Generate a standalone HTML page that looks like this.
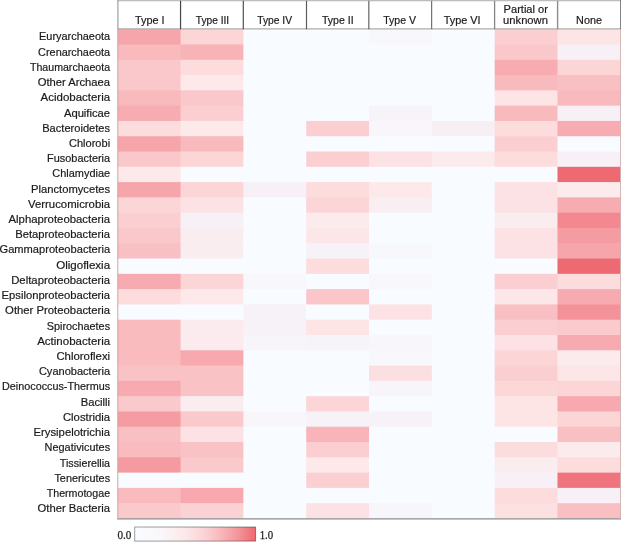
<!DOCTYPE html>
<html><head><meta charset="utf-8"><title>Heatmap</title>
<style>html,body{margin:0;padding:0;background:#fff}svg{display:block}text{font-family:"Liberation Sans",sans-serif;fill:#1a1a1a;stroke:#1a1a1a;stroke-width:0.2px}</style></head><body>
<svg width="621" height="542" viewBox="0 0 621 542">
<defs><linearGradient id="g" x1="0" x2="1" y1="0" y2="0">
<stop offset="0%" stop-color="#f9fcff"/>
<stop offset="22%" stop-color="#faf6f9"/>
<stop offset="42%" stop-color="#fde8e9"/>
<stop offset="58%" stop-color="#fbd3d5"/>
<stop offset="72%" stop-color="#f8b6ba"/>
<stop offset="86%" stop-color="#f3939a"/>
<stop offset="100%" stop-color="#ef686e"/>
</linearGradient></defs>
<rect x="0" y="0" width="621" height="542" fill="#fff"/>
<rect x="117.75" y="29.20" width="502.56" height="489.28" fill="#f8fbff"/>
<g>
<rect x="117.75" y="29.20" width="63.52" height="15.99" fill="#f6a5ab"/>
<rect x="180.57" y="29.20" width="63.52" height="15.99" fill="#fcd6d7"/>
<rect x="243.39" y="29.20" width="63.52" height="15.99" fill="#f8fbff"/>
<rect x="306.21" y="29.20" width="63.52" height="15.99" fill="#f8fbff"/>
<rect x="369.03" y="29.20" width="63.52" height="15.99" fill="#f8f8fc"/>
<rect x="431.85" y="29.20" width="63.52" height="15.99" fill="#f8fbff"/>
<rect x="494.67" y="29.20" width="63.52" height="15.99" fill="#fbcfd1"/>
<rect x="557.49" y="29.20" width="62.81" height="15.99" fill="#fde4e5"/>
<rect x="117.75" y="44.49" width="63.52" height="15.99" fill="#f8babd"/>
<rect x="180.57" y="44.49" width="63.52" height="15.99" fill="#f8b3b7"/>
<rect x="243.39" y="44.49" width="63.52" height="15.99" fill="#f8fbff"/>
<rect x="306.21" y="44.49" width="63.52" height="15.99" fill="#f8fbff"/>
<rect x="369.03" y="44.49" width="63.52" height="15.99" fill="#f8fbff"/>
<rect x="431.85" y="44.49" width="63.52" height="15.99" fill="#f8fbff"/>
<rect x="494.67" y="44.49" width="63.52" height="15.99" fill="#fac8ca"/>
<rect x="557.49" y="44.49" width="62.81" height="15.99" fill="#f7f1f7"/>
<rect x="117.75" y="59.78" width="63.52" height="15.99" fill="#fac8ca"/>
<rect x="180.57" y="59.78" width="63.52" height="15.99" fill="#fcdcdd"/>
<rect x="243.39" y="59.78" width="63.52" height="15.99" fill="#f8fbff"/>
<rect x="306.21" y="59.78" width="63.52" height="15.99" fill="#f8fbff"/>
<rect x="369.03" y="59.78" width="63.52" height="15.99" fill="#f8fbff"/>
<rect x="431.85" y="59.78" width="63.52" height="15.99" fill="#f8fbff"/>
<rect x="494.67" y="59.78" width="63.52" height="15.99" fill="#f7acb1"/>
<rect x="557.49" y="59.78" width="62.81" height="15.99" fill="#fcd6d7"/>
<rect x="117.75" y="75.07" width="63.52" height="15.99" fill="#fac8ca"/>
<rect x="180.57" y="75.07" width="63.52" height="15.99" fill="#fde9ea"/>
<rect x="243.39" y="75.07" width="63.52" height="15.99" fill="#f8fbff"/>
<rect x="306.21" y="75.07" width="63.52" height="15.99" fill="#f8fbff"/>
<rect x="369.03" y="75.07" width="63.52" height="15.99" fill="#f8fbff"/>
<rect x="431.85" y="75.07" width="63.52" height="15.99" fill="#f8fbff"/>
<rect x="494.67" y="75.07" width="63.52" height="15.99" fill="#f8babd"/>
<rect x="557.49" y="75.07" width="62.81" height="15.99" fill="#f9c0c3"/>
<rect x="117.75" y="90.36" width="63.52" height="15.99" fill="#f8babd"/>
<rect x="180.57" y="90.36" width="63.52" height="15.99" fill="#fac8ca"/>
<rect x="243.39" y="90.36" width="63.52" height="15.99" fill="#f8fbff"/>
<rect x="306.21" y="90.36" width="63.52" height="15.99" fill="#f8fbff"/>
<rect x="369.03" y="90.36" width="63.52" height="15.99" fill="#f8fbff"/>
<rect x="431.85" y="90.36" width="63.52" height="15.99" fill="#f8fbff"/>
<rect x="494.67" y="90.36" width="63.52" height="15.99" fill="#fde4e5"/>
<rect x="557.49" y="90.36" width="62.81" height="15.99" fill="#f8babd"/>
<rect x="117.75" y="105.65" width="63.52" height="15.99" fill="#f7acb1"/>
<rect x="180.57" y="105.65" width="63.52" height="15.99" fill="#fbcfd1"/>
<rect x="243.39" y="105.65" width="63.52" height="15.99" fill="#f8fbff"/>
<rect x="306.21" y="105.65" width="63.52" height="15.99" fill="#f8fbff"/>
<rect x="369.03" y="105.65" width="63.52" height="15.99" fill="#f7f3f9"/>
<rect x="431.85" y="105.65" width="63.52" height="15.99" fill="#f8fbff"/>
<rect x="494.67" y="105.65" width="63.52" height="15.99" fill="#f8babd"/>
<rect x="557.49" y="105.65" width="62.81" height="15.99" fill="#f7f1f7"/>
<rect x="117.75" y="120.94" width="63.52" height="15.99" fill="#fcdcdd"/>
<rect x="180.57" y="120.94" width="63.52" height="15.99" fill="#fde9ea"/>
<rect x="243.39" y="120.94" width="63.52" height="15.99" fill="#f8fbff"/>
<rect x="306.21" y="120.94" width="63.52" height="15.99" fill="#fbcfd1"/>
<rect x="369.03" y="120.94" width="63.52" height="15.99" fill="#f8f6fb"/>
<rect x="431.85" y="120.94" width="63.52" height="15.99" fill="#f8eff4"/>
<rect x="494.67" y="120.94" width="63.52" height="15.99" fill="#fcdcdd"/>
<rect x="557.49" y="120.94" width="62.81" height="15.99" fill="#f7acb1"/>
<rect x="117.75" y="136.23" width="63.52" height="15.99" fill="#f6a5ab"/>
<rect x="180.57" y="136.23" width="63.52" height="15.99" fill="#f8babd"/>
<rect x="243.39" y="136.23" width="63.52" height="15.99" fill="#f8fbff"/>
<rect x="306.21" y="136.23" width="63.52" height="15.99" fill="#f8fbff"/>
<rect x="369.03" y="136.23" width="63.52" height="15.99" fill="#f8fbff"/>
<rect x="431.85" y="136.23" width="63.52" height="15.99" fill="#f8fbff"/>
<rect x="494.67" y="136.23" width="63.52" height="15.99" fill="#fbcfd1"/>
<rect x="557.49" y="136.23" width="62.81" height="15.99" fill="#f8fbff"/>
<rect x="117.75" y="151.52" width="63.52" height="15.99" fill="#fac8ca"/>
<rect x="180.57" y="151.52" width="63.52" height="15.99" fill="#fcd6d7"/>
<rect x="243.39" y="151.52" width="63.52" height="15.99" fill="#f8fbff"/>
<rect x="306.21" y="151.52" width="63.52" height="15.99" fill="#fbcfd1"/>
<rect x="369.03" y="151.52" width="63.52" height="15.99" fill="#fce2e4"/>
<rect x="431.85" y="151.52" width="63.52" height="15.99" fill="#fcebed"/>
<rect x="494.67" y="151.52" width="63.52" height="15.99" fill="#fcdcdd"/>
<rect x="557.49" y="151.52" width="62.81" height="15.99" fill="#f7f1f7"/>
<rect x="117.75" y="166.81" width="63.52" height="15.99" fill="#fde9ea"/>
<rect x="180.57" y="166.81" width="63.52" height="15.99" fill="#f8fbff"/>
<rect x="243.39" y="166.81" width="63.52" height="15.99" fill="#f8fbff"/>
<rect x="306.21" y="166.81" width="63.52" height="15.99" fill="#f8fbff"/>
<rect x="369.03" y="166.81" width="63.52" height="15.99" fill="#f8fbff"/>
<rect x="431.85" y="166.81" width="63.52" height="15.99" fill="#f8fbff"/>
<rect x="494.67" y="166.81" width="63.52" height="15.99" fill="#f8fbff"/>
<rect x="557.49" y="166.81" width="62.81" height="15.99" fill="#ee6a72"/>
<rect x="117.75" y="182.10" width="63.52" height="15.99" fill="#f6a5ab"/>
<rect x="180.57" y="182.10" width="63.52" height="15.99" fill="#fcd6d7"/>
<rect x="243.39" y="182.10" width="63.52" height="15.99" fill="#f7f1f7"/>
<rect x="306.21" y="182.10" width="63.52" height="15.99" fill="#fcdcdd"/>
<rect x="369.03" y="182.10" width="63.52" height="15.99" fill="#fde9ea"/>
<rect x="431.85" y="182.10" width="63.52" height="15.99" fill="#f8fbff"/>
<rect x="494.67" y="182.10" width="63.52" height="15.99" fill="#fce2e4"/>
<rect x="557.49" y="182.10" width="62.81" height="15.99" fill="#fcebed"/>
<rect x="117.75" y="197.39" width="63.52" height="15.99" fill="#fcd6d7"/>
<rect x="180.57" y="197.39" width="63.52" height="15.99" fill="#fce2e4"/>
<rect x="243.39" y="197.39" width="63.52" height="15.99" fill="#f8fbff"/>
<rect x="306.21" y="197.39" width="63.52" height="15.99" fill="#fcd6d7"/>
<rect x="369.03" y="197.39" width="63.52" height="15.99" fill="#f9eef2"/>
<rect x="431.85" y="197.39" width="63.52" height="15.99" fill="#f8fbff"/>
<rect x="494.67" y="197.39" width="63.52" height="15.99" fill="#fce2e4"/>
<rect x="557.49" y="197.39" width="62.81" height="15.99" fill="#f7acb1"/>
<rect x="117.75" y="212.68" width="63.52" height="15.99" fill="#fbcfd1"/>
<rect x="180.57" y="212.68" width="63.52" height="15.99" fill="#f7f1f7"/>
<rect x="243.39" y="212.68" width="63.52" height="15.99" fill="#f8fbff"/>
<rect x="306.21" y="212.68" width="63.52" height="15.99" fill="#fcebed"/>
<rect x="369.03" y="212.68" width="63.52" height="15.99" fill="#f8fbff"/>
<rect x="431.85" y="212.68" width="63.52" height="15.99" fill="#f8fbff"/>
<rect x="494.67" y="212.68" width="63.52" height="15.99" fill="#faedf0"/>
<rect x="557.49" y="212.68" width="62.81" height="15.99" fill="#f38891"/>
<rect x="117.75" y="227.97" width="63.52" height="15.99" fill="#fac8ca"/>
<rect x="180.57" y="227.97" width="63.52" height="15.99" fill="#faedf0"/>
<rect x="243.39" y="227.97" width="63.52" height="15.99" fill="#f8fbff"/>
<rect x="306.21" y="227.97" width="63.52" height="15.99" fill="#fde6e7"/>
<rect x="369.03" y="227.97" width="63.52" height="15.99" fill="#f8fbff"/>
<rect x="431.85" y="227.97" width="63.52" height="15.99" fill="#f8fbff"/>
<rect x="494.67" y="227.97" width="63.52" height="15.99" fill="#fce2e4"/>
<rect x="557.49" y="227.97" width="62.81" height="15.99" fill="#f59ca2"/>
<rect x="117.75" y="243.26" width="63.52" height="15.99" fill="#f9c0c3"/>
<rect x="180.57" y="243.26" width="63.52" height="15.99" fill="#faedf0"/>
<rect x="243.39" y="243.26" width="63.52" height="15.99" fill="#f8fbff"/>
<rect x="306.21" y="243.26" width="63.52" height="15.99" fill="#f7f2f8"/>
<rect x="369.03" y="243.26" width="63.52" height="15.99" fill="#f8f7fc"/>
<rect x="431.85" y="243.26" width="63.52" height="15.99" fill="#f8fbff"/>
<rect x="494.67" y="243.26" width="63.52" height="15.99" fill="#fce2e4"/>
<rect x="557.49" y="243.26" width="62.81" height="15.99" fill="#f6a5ab"/>
<rect x="117.75" y="258.55" width="63.52" height="15.99" fill="#f8fbff"/>
<rect x="180.57" y="258.55" width="63.52" height="15.99" fill="#f8fbff"/>
<rect x="243.39" y="258.55" width="63.52" height="15.99" fill="#f8fbff"/>
<rect x="306.21" y="258.55" width="63.52" height="15.99" fill="#fcdcdd"/>
<rect x="369.03" y="258.55" width="63.52" height="15.99" fill="#f8fbff"/>
<rect x="431.85" y="258.55" width="63.52" height="15.99" fill="#f8fbff"/>
<rect x="494.67" y="258.55" width="63.52" height="15.99" fill="#f8fbff"/>
<rect x="557.49" y="258.55" width="62.81" height="15.99" fill="#ee6a72"/>
<rect x="117.75" y="273.84" width="63.52" height="15.99" fill="#f7abb0"/>
<rect x="180.57" y="273.84" width="63.52" height="15.99" fill="#fcd6d7"/>
<rect x="243.39" y="273.84" width="63.52" height="15.99" fill="#f8f8fc"/>
<rect x="306.21" y="273.84" width="63.52" height="15.99" fill="#f8fbff"/>
<rect x="369.03" y="273.84" width="63.52" height="15.99" fill="#f8f7fc"/>
<rect x="431.85" y="273.84" width="63.52" height="15.99" fill="#f8fbff"/>
<rect x="494.67" y="273.84" width="63.52" height="15.99" fill="#fbcfd1"/>
<rect x="557.49" y="273.84" width="62.81" height="15.99" fill="#fcdcdd"/>
<rect x="117.75" y="289.13" width="63.52" height="15.99" fill="#fcdcdd"/>
<rect x="180.57" y="289.13" width="63.52" height="15.99" fill="#fde9ea"/>
<rect x="243.39" y="289.13" width="63.52" height="15.99" fill="#f8fbff"/>
<rect x="306.21" y="289.13" width="63.52" height="15.99" fill="#fac6c9"/>
<rect x="369.03" y="289.13" width="63.52" height="15.99" fill="#f8fbff"/>
<rect x="431.85" y="289.13" width="63.52" height="15.99" fill="#f8fbff"/>
<rect x="494.67" y="289.13" width="63.52" height="15.99" fill="#fde6e7"/>
<rect x="557.49" y="289.13" width="62.81" height="15.99" fill="#f7abb0"/>
<rect x="117.75" y="304.42" width="63.52" height="15.99" fill="#f8fbff"/>
<rect x="180.57" y="304.42" width="63.52" height="15.99" fill="#f8fbff"/>
<rect x="243.39" y="304.42" width="63.52" height="15.99" fill="#f7f2f8"/>
<rect x="306.21" y="304.42" width="63.52" height="15.99" fill="#f8fbff"/>
<rect x="369.03" y="304.42" width="63.52" height="15.99" fill="#fce2e4"/>
<rect x="431.85" y="304.42" width="63.52" height="15.99" fill="#f8fbff"/>
<rect x="494.67" y="304.42" width="63.52" height="15.99" fill="#f9c0c3"/>
<rect x="557.49" y="304.42" width="62.81" height="15.99" fill="#f4929a"/>
<rect x="117.75" y="319.71" width="63.52" height="15.99" fill="#f9bbbe"/>
<rect x="180.57" y="319.71" width="63.52" height="15.99" fill="#fbebee"/>
<rect x="243.39" y="319.71" width="63.52" height="15.99" fill="#f7f2f8"/>
<rect x="306.21" y="319.71" width="63.52" height="15.99" fill="#fde4e5"/>
<rect x="369.03" y="319.71" width="63.52" height="15.99" fill="#f8fbff"/>
<rect x="431.85" y="319.71" width="63.52" height="15.99" fill="#f8fbff"/>
<rect x="494.67" y="319.71" width="63.52" height="15.99" fill="#fbcfd1"/>
<rect x="557.49" y="319.71" width="62.81" height="15.99" fill="#facacd"/>
<rect x="117.75" y="335.00" width="63.52" height="15.99" fill="#f9bbbe"/>
<rect x="180.57" y="335.00" width="63.52" height="15.99" fill="#fbebee"/>
<rect x="243.39" y="335.00" width="63.52" height="15.99" fill="#f7f5fa"/>
<rect x="306.21" y="335.00" width="63.52" height="15.99" fill="#f7f4f9"/>
<rect x="369.03" y="335.00" width="63.52" height="15.99" fill="#f8f6fb"/>
<rect x="431.85" y="335.00" width="63.52" height="15.99" fill="#f8fbff"/>
<rect x="494.67" y="335.00" width="63.52" height="15.99" fill="#fce2e4"/>
<rect x="557.49" y="335.00" width="62.81" height="15.99" fill="#f7abb0"/>
<rect x="117.75" y="350.29" width="63.52" height="15.99" fill="#f9bbbe"/>
<rect x="180.57" y="350.29" width="63.52" height="15.99" fill="#f7a9af"/>
<rect x="243.39" y="350.29" width="63.52" height="15.99" fill="#f8fbff"/>
<rect x="306.21" y="350.29" width="63.52" height="15.99" fill="#f8fbff"/>
<rect x="369.03" y="350.29" width="63.52" height="15.99" fill="#f8f7fc"/>
<rect x="431.85" y="350.29" width="63.52" height="15.99" fill="#f8fbff"/>
<rect x="494.67" y="350.29" width="63.52" height="15.99" fill="#fcd6d7"/>
<rect x="557.49" y="350.29" width="62.81" height="15.99" fill="#fcebed"/>
<rect x="117.75" y="365.58" width="63.52" height="15.99" fill="#f9c2c4"/>
<rect x="180.57" y="365.58" width="63.52" height="15.99" fill="#f9c3c6"/>
<rect x="243.39" y="365.58" width="63.52" height="15.99" fill="#f8fbff"/>
<rect x="306.21" y="365.58" width="63.52" height="15.99" fill="#f8fbff"/>
<rect x="369.03" y="365.58" width="63.52" height="15.99" fill="#fcdfe0"/>
<rect x="431.85" y="365.58" width="63.52" height="15.99" fill="#f8fbff"/>
<rect x="494.67" y="365.58" width="63.52" height="15.99" fill="#fbcfd1"/>
<rect x="557.49" y="365.58" width="62.81" height="15.99" fill="#fde6e7"/>
<rect x="117.75" y="380.87" width="63.52" height="15.99" fill="#f7abb0"/>
<rect x="180.57" y="380.87" width="63.52" height="15.99" fill="#f9c3c6"/>
<rect x="243.39" y="380.87" width="63.52" height="15.99" fill="#f8fbff"/>
<rect x="306.21" y="380.87" width="63.52" height="15.99" fill="#f8fbff"/>
<rect x="369.03" y="380.87" width="63.52" height="15.99" fill="#f7f5fa"/>
<rect x="431.85" y="380.87" width="63.52" height="15.99" fill="#f8fbff"/>
<rect x="494.67" y="380.87" width="63.52" height="15.99" fill="#fcd7d8"/>
<rect x="557.49" y="380.87" width="62.81" height="15.99" fill="#fcd6d7"/>
<rect x="117.75" y="396.16" width="63.52" height="15.99" fill="#fac9cb"/>
<rect x="180.57" y="396.16" width="63.52" height="15.99" fill="#faedf0"/>
<rect x="243.39" y="396.16" width="63.52" height="15.99" fill="#f8fbff"/>
<rect x="306.21" y="396.16" width="63.52" height="15.99" fill="#fcd6d7"/>
<rect x="369.03" y="396.16" width="63.52" height="15.99" fill="#f8fbff"/>
<rect x="431.85" y="396.16" width="63.52" height="15.99" fill="#f8fbff"/>
<rect x="494.67" y="396.16" width="63.52" height="15.99" fill="#fde4e5"/>
<rect x="557.49" y="396.16" width="62.81" height="15.99" fill="#f7a9af"/>
<rect x="117.75" y="411.45" width="63.52" height="15.99" fill="#f59ca2"/>
<rect x="180.57" y="411.45" width="63.52" height="15.99" fill="#fac9cb"/>
<rect x="243.39" y="411.45" width="63.52" height="15.99" fill="#f8f6fb"/>
<rect x="306.21" y="411.45" width="63.52" height="15.99" fill="#f7f2f8"/>
<rect x="369.03" y="411.45" width="63.52" height="15.99" fill="#f7f2f8"/>
<rect x="431.85" y="411.45" width="63.52" height="15.99" fill="#f8fbff"/>
<rect x="494.67" y="411.45" width="63.52" height="15.99" fill="#fde4e5"/>
<rect x="557.49" y="411.45" width="62.81" height="15.99" fill="#fcd6d7"/>
<rect x="117.75" y="426.74" width="63.52" height="15.99" fill="#f9c0c3"/>
<rect x="180.57" y="426.74" width="63.52" height="15.99" fill="#fce2e4"/>
<rect x="243.39" y="426.74" width="63.52" height="15.99" fill="#f8fbff"/>
<rect x="306.21" y="426.74" width="63.52" height="15.99" fill="#f8b4b8"/>
<rect x="369.03" y="426.74" width="63.52" height="15.99" fill="#f8fbff"/>
<rect x="431.85" y="426.74" width="63.52" height="15.99" fill="#f8fbff"/>
<rect x="494.67" y="426.74" width="63.52" height="15.99" fill="#f8fbff"/>
<rect x="557.49" y="426.74" width="62.81" height="15.99" fill="#f9c0c3"/>
<rect x="117.75" y="442.03" width="63.52" height="15.99" fill="#f9bbbe"/>
<rect x="180.57" y="442.03" width="63.52" height="15.99" fill="#f9c2c4"/>
<rect x="243.39" y="442.03" width="63.52" height="15.99" fill="#f8fbff"/>
<rect x="306.21" y="442.03" width="63.52" height="15.99" fill="#fbcfd1"/>
<rect x="369.03" y="442.03" width="63.52" height="15.99" fill="#f8fbff"/>
<rect x="431.85" y="442.03" width="63.52" height="15.99" fill="#f8fbff"/>
<rect x="494.67" y="442.03" width="63.52" height="15.99" fill="#fcddde"/>
<rect x="557.49" y="442.03" width="62.81" height="15.99" fill="#fcebed"/>
<rect x="117.75" y="457.32" width="63.52" height="15.99" fill="#f59aa1"/>
<rect x="180.57" y="457.32" width="63.52" height="15.99" fill="#fac9cb"/>
<rect x="243.39" y="457.32" width="63.52" height="15.99" fill="#f8fbff"/>
<rect x="306.21" y="457.32" width="63.52" height="15.99" fill="#fde9ea"/>
<rect x="369.03" y="457.32" width="63.52" height="15.99" fill="#f8fbff"/>
<rect x="431.85" y="457.32" width="63.52" height="15.99" fill="#f8fbff"/>
<rect x="494.67" y="457.32" width="63.52" height="15.99" fill="#faedf0"/>
<rect x="557.49" y="457.32" width="62.81" height="15.99" fill="#fcdcdd"/>
<rect x="117.75" y="472.61" width="63.52" height="15.99" fill="#f8fbff"/>
<rect x="180.57" y="472.61" width="63.52" height="15.99" fill="#f8fbff"/>
<rect x="243.39" y="472.61" width="63.52" height="15.99" fill="#f8fbff"/>
<rect x="306.21" y="472.61" width="63.52" height="15.99" fill="#fbd0d2"/>
<rect x="369.03" y="472.61" width="63.52" height="15.99" fill="#f8fbff"/>
<rect x="431.85" y="472.61" width="63.52" height="15.99" fill="#f8fbff"/>
<rect x="494.67" y="472.61" width="63.52" height="15.99" fill="#f7f1f7"/>
<rect x="557.49" y="472.61" width="62.81" height="15.99" fill="#f0747d"/>
<rect x="117.75" y="487.90" width="63.52" height="15.99" fill="#f9bbbe"/>
<rect x="180.57" y="487.90" width="63.52" height="15.99" fill="#f7a9af"/>
<rect x="243.39" y="487.90" width="63.52" height="15.99" fill="#f8fbff"/>
<rect x="306.21" y="487.90" width="63.52" height="15.99" fill="#f8fbff"/>
<rect x="369.03" y="487.90" width="63.52" height="15.99" fill="#f8fbff"/>
<rect x="431.85" y="487.90" width="63.52" height="15.99" fill="#f8fbff"/>
<rect x="494.67" y="487.90" width="63.52" height="15.99" fill="#fcdcdd"/>
<rect x="557.49" y="487.90" width="62.81" height="15.99" fill="#f7f1f7"/>
<rect x="117.75" y="503.19" width="63.52" height="15.31" fill="#fac9cb"/>
<rect x="180.57" y="503.19" width="63.52" height="15.31" fill="#fbd2d3"/>
<rect x="243.39" y="503.19" width="63.52" height="15.31" fill="#f8fbff"/>
<rect x="306.21" y="503.19" width="63.52" height="15.31" fill="#fce2e4"/>
<rect x="369.03" y="503.19" width="63.52" height="15.31" fill="#f8f6fb"/>
<rect x="431.85" y="503.19" width="63.52" height="15.31" fill="#f8fbff"/>
<rect x="494.67" y="503.19" width="63.52" height="15.31" fill="#fce1e2"/>
<rect x="557.49" y="503.19" width="62.81" height="15.31" fill="#f9bfc2"/>
</g>
<g stroke="#444" stroke-width="1.2" fill="none">
<line x1="117.3" y1="0.6" x2="621" y2="0.6" stroke="#bdbdbd" stroke-width="1.2"/>
<line x1="117.3" y1="28.9" x2="621" y2="28.9" stroke="#999" stroke-width="1"/>
<line x1="117.3" y1="518.9" x2="621" y2="518.9" stroke="#8c8c8c" stroke-width="1.1"/>
<line x1="117.9" y1="0" x2="117.9" y2="29" stroke="#a6a6a6" stroke-width="1.3"/>
<line x1="117.8" y1="29" x2="117.8" y2="519.4" stroke="#c9a9a9" stroke-width="1"/>
<line x1="620.6" y1="0" x2="620.6" y2="29" stroke="#666" stroke-width="0.9"/>
<line x1="620.6" y1="29" x2="620.6" y2="519.4" stroke="#c9a9a9" stroke-width="0.9"/>
<line x1="180.55" y1="0.8" x2="180.55" y2="29.2" stroke="#444" stroke-width="1.20"/>
<line x1="243.30" y1="0.8" x2="243.30" y2="29.2" stroke="#505050" stroke-width="1.20"/>
<line x1="306.50" y1="0.8" x2="306.50" y2="29.2" stroke="#5c5c5c" stroke-width="1.20"/>
<line x1="368.80" y1="0.8" x2="368.80" y2="29.2" stroke="#6c6c6c" stroke-width="1.25"/>
<line x1="431.60" y1="0.8" x2="431.60" y2="29.2" stroke="#747474" stroke-width="1.25"/>
<line x1="494.60" y1="0.8" x2="494.60" y2="29.2" stroke="#868686" stroke-width="1.30"/>
<line x1="557.60" y1="0.8" x2="557.60" y2="29.2" stroke="#8c8c8c" stroke-width="1.40"/>
</g>
<text x="134.90" y="24.4" font-size="11.4" textLength="29.70" lengthAdjust="spacingAndGlyphs">Type I</text>
<text x="195.80" y="24.4" font-size="11.4" textLength="33.40" lengthAdjust="spacingAndGlyphs">Type III</text>
<text x="257.20" y="24.4" font-size="11.4" textLength="34.90" lengthAdjust="spacingAndGlyphs">Type IV</text>
<text x="321.90" y="24.4" font-size="11.4" textLength="31.70" lengthAdjust="spacingAndGlyphs">Type II</text>
<text x="383.20" y="24.4" font-size="11.4" textLength="32.90" lengthAdjust="spacingAndGlyphs">Type V</text>
<text x="443.70" y="24.4" font-size="11.4" textLength="36.90" lengthAdjust="spacingAndGlyphs">Type VI</text>
<text x="503.6" y="12.6" font-size="11.4" textLength="44.3" lengthAdjust="spacingAndGlyphs">Partial or</text>
<text x="503.1" y="24.4" font-size="11.4" textLength="44.8" lengthAdjust="spacingAndGlyphs">unknown</text>
<text x="576.1" y="24.4" font-size="11.4" textLength="25.8" lengthAdjust="spacingAndGlyphs">None</text>
<text x="39.10" y="40.40" font-size="11.4" textLength="71.00" lengthAdjust="spacingAndGlyphs">Euryarchaeota</text>
<text x="38.10" y="55.62" font-size="11.4" textLength="72.00" lengthAdjust="spacingAndGlyphs">Crenarchaeota</text>
<text x="30.00" y="70.84" font-size="11.4" textLength="80.10" lengthAdjust="spacingAndGlyphs">Thaumarchaeota</text>
<text x="37.70" y="86.06" font-size="11.4" textLength="72.40" lengthAdjust="spacingAndGlyphs">Other Archaea</text>
<text x="40.60" y="101.28" font-size="11.4" textLength="69.50" lengthAdjust="spacingAndGlyphs">Acidobacteria</text>
<text x="63.90" y="116.50" font-size="11.4" textLength="46.20" lengthAdjust="spacingAndGlyphs">Aquificae</text>
<text x="42.20" y="131.72" font-size="11.4" textLength="67.90" lengthAdjust="spacingAndGlyphs">Bacteroidetes</text>
<text x="69.00" y="146.94" font-size="11.4" textLength="41.10" lengthAdjust="spacingAndGlyphs">Chlorobi</text>
<text x="47.10" y="162.16" font-size="11.4" textLength="63.00" lengthAdjust="spacingAndGlyphs">Fusobacteria</text>
<text x="52.30" y="177.38" font-size="11.4" textLength="57.80" lengthAdjust="spacingAndGlyphs">Chlamydiae</text>
<text x="31.00" y="192.60" font-size="11.4" textLength="79.10" lengthAdjust="spacingAndGlyphs">Planctomycetes</text>
<text x="28.00" y="207.82" font-size="11.4" textLength="82.10" lengthAdjust="spacingAndGlyphs">Verrucomicrobia</text>
<text x="8.50" y="223.04" font-size="11.4" textLength="101.60" lengthAdjust="spacingAndGlyphs">Alphaproteobacteria</text>
<text x="15.20" y="238.26" font-size="11.4" textLength="94.90" lengthAdjust="spacingAndGlyphs">Betaproteobacteria</text>
<text x="-0.50" y="253.48" font-size="11.4" textLength="110.60" lengthAdjust="spacingAndGlyphs">Gammaproteobacteria</text>
<text x="56.20" y="268.70" font-size="11.4" textLength="53.90" lengthAdjust="spacingAndGlyphs">Oligoflexia</text>
<text x="11.20" y="283.92" font-size="11.4" textLength="98.90" lengthAdjust="spacingAndGlyphs">Deltaproteobacteria</text>
<text x="1.60" y="299.14" font-size="11.4" textLength="108.50" lengthAdjust="spacingAndGlyphs">Epsilonproteobacteria</text>
<text x="5.10" y="314.36" font-size="11.4" textLength="105.00" lengthAdjust="spacingAndGlyphs">Other Proteobacteria</text>
<text x="46.70" y="329.58" font-size="11.4" textLength="63.40" lengthAdjust="spacingAndGlyphs">Spirochaetes</text>
<text x="37.20" y="344.80" font-size="11.4" textLength="72.90" lengthAdjust="spacingAndGlyphs">Actinobacteria</text>
<text x="56.40" y="360.02" font-size="11.4" textLength="53.70" lengthAdjust="spacingAndGlyphs">Chloroflexi</text>
<text x="38.90" y="375.24" font-size="11.4" textLength="71.20" lengthAdjust="spacingAndGlyphs">Cyanobacteria</text>
<text x="2.00" y="390.46" font-size="11.4" textLength="108.10" lengthAdjust="spacingAndGlyphs">Deinococcus-Thermus</text>
<text x="80.70" y="405.68" font-size="11.4" textLength="29.40" lengthAdjust="spacingAndGlyphs">Bacilli</text>
<text x="62.90" y="420.90" font-size="11.4" textLength="47.20" lengthAdjust="spacingAndGlyphs">Clostridia</text>
<text x="33.50" y="436.12" font-size="11.4" textLength="76.60" lengthAdjust="spacingAndGlyphs">Erysipelotrichia</text>
<text x="44.60" y="451.34" font-size="11.4" textLength="65.50" lengthAdjust="spacingAndGlyphs">Negativicutes</text>
<text x="59.80" y="466.56" font-size="11.4" textLength="50.30" lengthAdjust="spacingAndGlyphs">Tissierellia</text>
<text x="54.40" y="481.78" font-size="11.4" textLength="55.70" lengthAdjust="spacingAndGlyphs">Tenericutes</text>
<text x="46.70" y="497.00" font-size="11.4" textLength="63.40" lengthAdjust="spacingAndGlyphs">Thermotogae</text>
<text x="37.50" y="512.22" font-size="11.4" textLength="72.60" lengthAdjust="spacingAndGlyphs">Other Bacteria</text>
<rect x="134.7" y="527.0" width="120.9" height="14.1" fill="url(#g)" stroke="#000" stroke-opacity="0.38" stroke-width="1"/>
<text x="117.4" y="538.6" font-size="12" textLength="13.9" lengthAdjust="spacingAndGlyphs" style="font-family:'Liberation Serif',serif;stroke-width:0.25px">0.0</text>
<text x="259.7" y="538.6" font-size="12" textLength="13.5" lengthAdjust="spacingAndGlyphs" style="font-family:'Liberation Serif',serif;stroke-width:0.25px">1.0</text>
</svg></body></html>
